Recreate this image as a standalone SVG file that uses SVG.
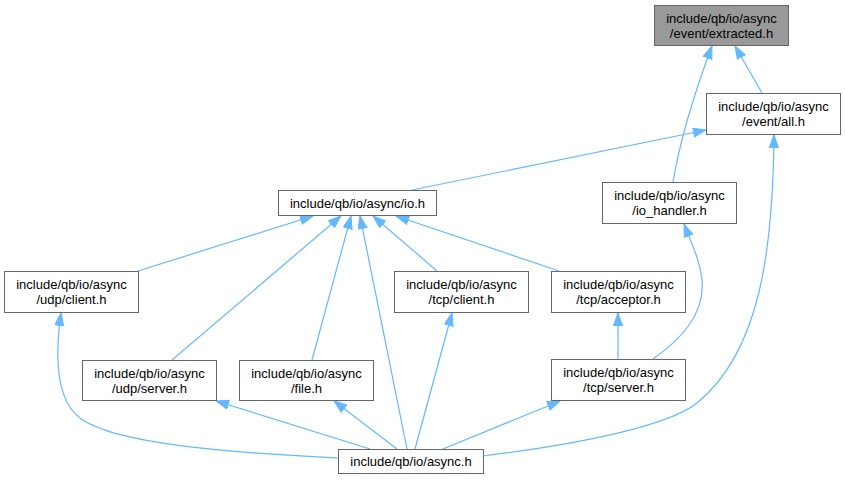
<svg xmlns="http://www.w3.org/2000/svg" width="845" height="480" viewBox="0 0 845 480">
<style>
.bg{fill:#ffffff}
.n rect{fill:#ffffff;stroke:#666666;stroke-width:1}
.n.hl rect{fill:#999999}
.n text{font-family:"Liberation Sans",Arial,Helvetica,sans-serif;font-size:13px;fill:#000000;text-anchor:middle}
.e path{fill:none;stroke:#63b8ff;stroke-width:1.2;marker-end:url(#ah)}
</style>
<defs>
<marker id="ah" markerUnits="userSpaceOnUse" markerWidth="14" markerHeight="10" refX="13" refY="4.7" orient="auto">
<path d="M0,0 L13,4.7 L0,9.4 Z" fill="#63b8ff" stroke="#63b8ff" stroke-width="1"/>
</marker>
</defs>
<rect class="bg" x="0" y="0" width="845" height="480"/>
<g id="edges" class="e">
<path d="M762,93 L735,46"/>
<path d="M673,182 C680,140 697,86 712,46"/>
<path d="M412,190 L706,130"/>
<path d="M483,456 C580,444 668,426 697,403 C760,352 773,250 774,135"/>
<path d="M138,271 L313,216"/>
<path d="M172,360 L341,216"/>
<path d="M312,360 L351,216"/>
<path d="M407,449 L360,216"/>
<path d="M437,271 L373,216"/>
<path d="M559,271 L396,216"/>
<path d="M338,458 C260,454 118,447 80,418 C55,399 55,355 61,313"/>
<path d="M370,449 L216,401"/>
<path d="M397,449 L334,401"/>
<path d="M415,449 L452,313"/>
<path d="M443,449 L560,401"/>
<path d="M618,359 L618,313"/>
<path d="M653,359 C680,340 705,315 702,280 C700,260 692,245 684,224"/>
</g>
<g id="n_extracted" class="n hl">
<rect x="654.5" y="5.5" width="134" height="40"/>
<text x="721.5" y="23">include/qb/io/async</text>
<text x="721.5" y="38">/event/extracted.h</text>
</g>
<g id="n_all" class="n">
<rect x="706.5" y="93.5" width="134" height="41"/>
<text x="773.5" y="111">include/qb/io/async</text>
<text x="773.5" y="126">/event/all.h</text>
</g>
<g id="n_io" class="n">
<rect x="278.5" y="190.5" width="158" height="25"/>
<text x="357.5" y="207.5">include/qb/io/async/io.h</text>
</g>
<g id="n_io_handler" class="n">
<rect x="602.5" y="182.5" width="134" height="41"/>
<text x="669.5" y="200">include/qb/io/async</text>
<text x="669.5" y="215">/io_handler.h</text>
</g>
<g id="n_udp_client" class="n">
<rect x="4.5" y="271.5" width="134" height="41"/>
<text x="71.5" y="289">include/qb/io/async</text>
<text x="71.5" y="304">/udp/client.h</text>
</g>
<g id="n_tcp_client" class="n">
<rect x="394.5" y="271.5" width="134" height="41"/>
<text x="461.5" y="289">include/qb/io/async</text>
<text x="461.5" y="304">/tcp/client.h</text>
</g>
<g id="n_tcp_acceptor" class="n">
<rect x="551.5" y="271.5" width="134" height="41"/>
<text x="618.5" y="289">include/qb/io/async</text>
<text x="618.5" y="304">/tcp/acceptor.h</text>
</g>
<g id="n_udp_server" class="n">
<rect x="82.5" y="360.5" width="134" height="40"/>
<text x="149.5" y="378">include/qb/io/async</text>
<text x="149.5" y="393">/udp/server.h</text>
</g>
<g id="n_file" class="n">
<rect x="239.5" y="360.5" width="134" height="40"/>
<text x="306.5" y="378">include/qb/io/async</text>
<text x="306.5" y="393">/file.h</text>
</g>
<g id="n_tcp_server" class="n">
<rect x="551.5" y="359.5" width="134" height="41"/>
<text x="618.5" y="377">include/qb/io/async</text>
<text x="618.5" y="392">/tcp/server.h</text>
</g>
<g id="n_async" class="n">
<rect x="338.5" y="449.5" width="145" height="24"/>
<text x="411" y="465.5">include/qb/io/async.h</text>
</g>
</svg>
